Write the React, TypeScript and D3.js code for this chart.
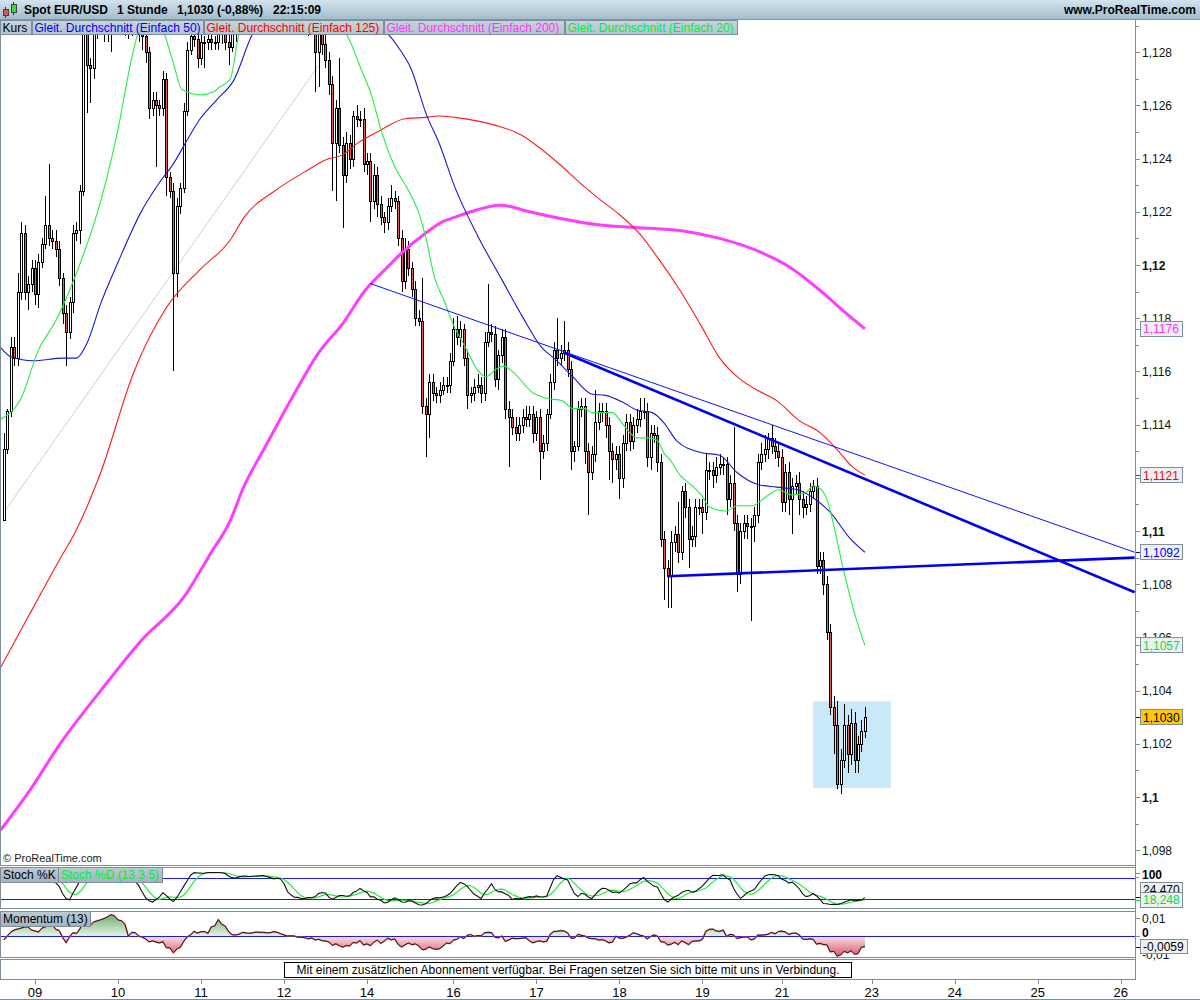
import React from 'react';
import * as d3 from 'd3';

// prices are stored as codes: 1203 -> 1.1203
const FIRST_INDEX = -9;
const FIRST_OPEN = 1104;

const closes = [
  1131, 1145, 1169, 1165, 1190, 1212, 1190, 1193, 1199, 1189,
  1201, 1208, 1215, 1210, 1209, 1206, 1195, 1182, 1175, 1186, 1212, 1213, 1228, 1291, 1275, 1274,
  1288, 1293, 1296, 1292, 1289, 1294, 1297, 1301, 1298, 1294, 1290, 1295, 1292, 1288, 1286,
  1280, 1259, 1262, 1260, 1259, 1270, 1233, 1228, 1197, 1222, 1229, 1258, 1281, 1286, 1285, 1278, 1284, 1284, 1285, 1284, 1284, 1288, 1287, 1284, 1282, 1288,
  1292, 1295, 1298, 1301, 1299, 1303, 1306, 1304, 1308, 1305, 1302, 1306, 1309, 1305, 1301, 1298, 1302, 1299, 1296, 1299, 1295, 1292, 1294,
  1280, 1288, 1283, 1277, 1268, 1246, 1259, 1245, 1234, 1246, 1240, 1256, 1255, 1255, 1238, 1239, 1224, 1234, 1223, 1218,
  1216, 1222, 1225, 1224, 1210, 1194, 1206, 1199, 1191, 1180, 1179, 1147, 1144, 1156, 1152, 1151, 1153, 1155, 1155, 1164,
  1176, 1173, 1176, 1165, 1151, 1152, 1154, 1155, 1152, 1171, 1175, 1174, 1157, 1166, 1173, 1146, 1143, 1139, 1137, 1140,
  1143, 1142, 1144, 1137, 1143, 1130, 1133, 1144, 1156, 1168, 1165, 1167, 1168, 1161, 1130, 1132, 1146, 1147, 1130, 1122,
  1129, 1141, 1145, 1145, 1140, 1130, 1127, 1129, 1120, 1133, 1141, 1134, 1140, 1142, 1145, 1145, 1128, 1137, 1136, 1126,
  1097, 1086, 1083, 1096, 1099, 1092, 1115, 1109, 1097, 1098, 1109, 1109, 1107, 1123, 1123, 1121, 1124, 1125, 1125, 1112,
  1118, 1103, 1084, 1100, 1103, 1102, 1102, 1106, 1126, 1129, 1131, 1135, 1132, 1130, 1128, 1111, 1122, 1112, 1117, 1118,
  1112, 1109, 1110, 1115, 1117, 1087, 1089, 1080, 1062, 1034, 1027, 1005, 1014, 1027, 1016, 1028, 1014, 1020, 1025, 1030,
];

// wick length in pips above / below the body
const wickUp = [
  6, 1, 4, 4, 7, 4, 3, 3, 3, 3,
  3, 2, 11, 23, 3, 4, 3, 2, 3, 2, 3, 3, 2, 5, 4, 3,
  3, 3, 3, 3, 3, 3, 3, 3, 3, 3, 3, 3, 3, 3, 3,
  3, 2, 3, 3, 2, 3, 2, 2, 3, 3, 2, 3, 3, 3, 3, 3, 3, 2, 3, 3, 2, 3, 3, 3, 3, 3,
  3, 4, 3, 4, 3, 3, 4, 3, 3, 4, 3, 3, 4, 3, 3, 4, 3, 3, 4, 3, 3, 4, 3,
  3, 3, 3, 4, 3, 3, 3, 19, 3, 4, 3, 2, 4, 3, 4, 3, 3, 4, 3, 3,
  2, 3, 5, 3, 2, 3, 4, 3, 2, 3, 3, 16, 3, 3, 3, 2, 3, 3, 3, 3,
  4, 5, 3, 2, 3, 2, 3, 4, 3, 4, 18, 3, 3, 2, 3, 3, 3, 3, 4, 3,
  3, 4, 3, 3, 2, 3, 3, 2, 3, 3, 12, 3, 11, 3, 3, 2, 3, 3, 3, 3,
  3, 12, 3, 3, 3, 3, 3, 3, 3, 3, 3, 3, 3, 4, 5, 5, 3, 3, 3, 3,
  3, 3, 3, 4, 3, 12, 2, 3, 3, 4, 3, 3, 3, 6, 3, 3, 4, 4, 3, 3,
  3, 21, 3, 3, 3, 3, 3, 3, 3, 4, 5, 2, 5, 3, 3, 3, 3, 4, 3, 3,
  4, 3, 3, 3, 2, 3, 3, 3, 3, 3, 4, 9, 4, 8, 4, 5, 4, 3, 4, 4,
];
const wickDn = [
  0, 2, 2, 3, 3, 3, 3, 7, 3, 4,
  5, 2, 2, 3, 3, 3, 3, 4, 13, 3, 4, 3, 5, 2, 18, 13,
  4, 3, 6, 8, 5, 9, 6, 7, 4, 8, 5, 4, 3, 4, 5,
  4, 4, 3, 23, 3, 3, 7, 3, 37, 9, 3, 2, 2, 2, 3, 4, 3, 10, 3, 3, 3, 3, 4, 3, 7, 2,
  4, 3, 3, 3, 4, 3, 3, 4, 3, 3, 4, 3, 4, 3, 4, 3, 3, 4, 3, 3, 5, 6, 4,
  15, 13, 4, 3, 4, 18, 22, 3, 20, 3, 4, 3, 3, 3, 3, 4, 8, 3, 5, 3,
  4, 3, 2, 3, 3, 4, 3, 3, 3, 3, 2, 3, 16, 9, 3, 3, 3, 2, 3, 3,
  2, 3, 4, 3, 5, 3, 3, 2, 4, 3, 2, 3, 3, 4, 3, 4, 19, 3, 3, 3,
  3, 3, 3, 4, 3, 11, 3, 3, 2, 3, 3, 3, 3, 3, 7, 4, 2, 3, 5, 16,
  3, 3, 3, 4, 5, 11, 9, 4, 8, 4, 3, 4, 3, 3, 3, 3, 4, 5, 3, 4,
  3, 12, 12, 12, 4, 4, 3, 4, 11, 3, 4, 3, 8, 3, 4, 5, 3, 3, 4, 6,
  3, 3, 7, 4, 3, 5, 36, 6, 3, 3, 3, 4, 3, 3, 4, 4, 4, 6, 13, 3,
  6, 4, 3, 3, 3, 3, 3, 4, 3, 3, 11, 2, 4, 3, 7, 4, 5, 5, 3, 3,
];

// momentum of the first 13 bars (pips)
const momentumLead = [-22, 0, 22, 33, 39, 44, 50, 50, 33, 28, 22, 44, 50];

// moving averages: [bar index, price code]
const sma20: [number, number][] = [
  [-10, 1142], [-4, 1150], [1, 1168], [6, 1179], [12, 1197], [19, 1224], [24, 1251], [28, 1278], [30, 1288],
  [33, 1293], [37, 1288], [40, 1276], [42.5, 1266], [48, 1264], [51.5, 1265], [53.5, 1267], [56.5, 1270],
  [59, 1287], [62, 1294], [74, 1296], [85, 1292], [89.5, 1288], [94.5, 1273], [97.5, 1263], [100, 1251],
  [104, 1237], [108, 1228], [111, 1219.5], [113, 1210.5], [115.5, 1195.5], [118.5, 1186], [120.5, 1179],
  [124.5, 1169], [128, 1160.5], [130.5, 1158], [133, 1160.5], [135.5, 1162], [138, 1160], [144, 1152],
  [147.5, 1150], [152.5, 1149], [155.5, 1146], [159, 1146], [161, 1144.5], [167, 1144.5], [169.5, 1141],
  [172, 1137], [174, 1135], [177.5, 1135], [180, 1134], [182, 1129], [183.5, 1127], [186.5, 1121],
  [190.5, 1116.5], [193, 1113], [195, 1109], [200, 1107.5], [203, 1109.5], [207.5, 1109.5], [211.5, 1113],
  [215, 1115.5], [219, 1113.5], [223, 1114.5], [225, 1117], [227, 1116], [229, 1112], [231, 1102],
  [233, 1090], [235, 1079], [237, 1069], [240, 1057],
];
const sma50: [number, number][] = [
  [-10, 1169], [-7, 1165.5], [-0.5, 1164], [8, 1165], [12, 1165], [15, 1170.5], [19, 1185.5], [24, 1201],
  [30.5, 1219.5], [36, 1231], [40, 1238], [44, 1247], [47.5, 1254.5], [52.5, 1262], [57.5, 1269.5], [63, 1287],
  [68, 1294], [82, 1298], [97, 1292], [102, 1287], [105.5, 1281], [108.5, 1274.5], [113.5, 1255.5],
  [116.5, 1247], [121.5, 1229], [128, 1211], [135, 1194.5], [141, 1180.5], [146.5, 1169], [150.5, 1164.5],
  [155.5, 1158], [161, 1151.5], [165, 1151], [170.5, 1148], [174, 1145.5], [178.5, 1144.5], [182, 1140.5],
  [185.5, 1134], [192.5, 1129.5], [198, 1128.5], [203, 1122], [209, 1117.5], [214.5, 1116.5], [220.5, 1115.5],
  [225, 1112.5], [230, 1107], [235.5, 1097.5], [240, 1092],
];
const sma125: [number, number][] = [
  [-10, 1048.5], [-4, 1063], [1.5, 1076], [7, 1089], [12, 1100.5], [19, 1122], [28.5, 1159.5], [38, 1184],
  [47.5, 1198], [56.5, 1209.5], [60.5, 1218], [69.5, 1228], [78, 1235], [84, 1239.5], [89, 1241.5],
  [93.5, 1246], [99, 1250], [107, 1255], [113, 1255.5], [116.5, 1256], [121.5, 1255.5], [128.5, 1254],
  [134.5, 1252], [140.5, 1249], [146, 1244], [152, 1237.5], [157.5, 1231], [163.5, 1224.5], [169, 1219],
  [175, 1211.5], [180.5, 1202], [186.5, 1190.5], [192.5, 1177.5], [198, 1165], [204, 1157], [209.5, 1152.5],
  [214.5, 1149], [221, 1141.5], [227, 1137], [232, 1130.5], [236.5, 1124], [240, 1121],
];
const sma200: [number, number][] = [
  [-10, 987.5], [-1.5, 1002.5], [7, 1019.5], [19, 1040], [30.5, 1058.5], [43.5, 1076], [50.5, 1091],
  [56.5, 1104], [60, 1115.5], [66.5, 1131.5], [74.5, 1150.5], [82, 1167], [89, 1178], [95.5, 1190.5],
  [101, 1198], [106, 1204.5], [113, 1212], [117.5, 1216], [121.5, 1218], [126, 1220], [134.5, 1222.5],
  [143, 1220], [152, 1217.5], [163.5, 1215], [175, 1214], [186.5, 1213], [198, 1210], [209.5, 1205],
  [218.5, 1199], [227, 1190.5], [234, 1182.5], [240, 1176],
];

// drawn trend lines: [bar index, price code] -> [bar index, price code]
const trendLines = [
  { from: [-9, 1107], to: [82, 1275], color: '#cfcfcf', width: 1 },
  { from: [97, 1193], to: [318, 1092], color: '#1010ff', width: 1 },
  { from: [153, 1167], to: [318, 1077], color: '#0000f0', width: 2.6 },
  { from: [183, 1083], to: [318, 1090], color: '#0000f0', width: 2.6 },
];
const highlightBox = { i0: 225, i1: 247.5, p0: 1003.4, p1: 1036 };

const dayLabels = ['09', '10', '11', '12', '14', '16', '17', '18', '19', '21', '23', '24', '25', '26'];
const dayIndex = [0, 24, 48, 72, 96, 121, 145, 169, 193, 216, 242, 266, 290, 314];

// 1,112 sits fully under the 1,1121 tag, so it is not labelled
const priceTicks = [1.098, 1.1, 1.102, 1.104, 1.106, 1.108, 1.11, 1.112, 1.114, 1.116, 1.118, 1.12, 1.122, 1.124, 1.126, 1.128];
const priceLabels = [1.098, 1.1, 1.102, 1.104, 1.106, 1.108, 1.11, 1.114, 1.116, 1.118, 1.12, 1.122, 1.124, 1.126, 1.128];
const minorTicks = [1.097, 1.099, 1.101, 1.103, 1.105, 1.107, 1.109, 1.111, 1.113, 1.115, 1.117, 1.119, 1.121, 1.123, 1.125, 1.127, 1.129];

const lastTags = [
  { label: '1,1176', value: 1.1176, color: '#ff33ff', fill: '#eef0f2' },
  { label: '1,1121', value: 1.1121, color: '#ff0000', fill: '#eef0f2' },
  { label: '1,1092', value: 1.1092, color: '#0000ff', fill: '#eef0f2' },
  { label: '1,1057', value: 1.1057, color: '#00e040', fill: '#eef0f2' },
  { label: '1,1030', value: 1.1030, color: '#000000', fill: '#ffc800' },
];

const legendItems = [
  { label: 'Kurs', color: '#000000', x0: 0, x1: 31 },
  { label: 'Gleit. Durchschnitt (Einfach 50)', color: '#0000ff', x0: 32, x1: 203 },
  { label: 'Gleit. Durchschnitt (Einfach 125)', color: '#ff0000', x0: 204, x1: 383 },
  { label: 'Gleit. Durchschnitt (Einfach 200)', color: '#ff33ff', x0: 384, x1: 564 },
  { label: 'Gleit. Durchschnitt (Einfach 20)', color: '#00ee33', x0: 565, x1: 737 },
];

const FONT = '"Liberation Sans", Arial, Helvetica, sans-serif';
const PLOT_R = 1135;
const MAIN_TOP = 20, MAIN_BOT = 865;
const STO_TOP = 868, STO_BOT = 908;
const MOM_TOP = 912, MOM_BOT = 957;
const NOTE_TOP = 960, NOTE_BOT = 979;
const FRAME = '#7d8e99';

const toPrice = (code: number) => 1 + code / 10000;

const candles = closes.map((c, k) => {
  const o = k === 0 ? FIRST_OPEN : closes[k - 1];
  return {
    i: FIRST_INDEX + k,
    o: toPrice(o),
    c: toPrice(c),
    h: toPrice(Math.max(o, c) + wickUp[k]),
    l: toPrice(Math.min(o, c) - wickDn[k]),
  };
});

// Stochastic (13, 3, 5)
const rawK = candles.map((d, k) => {
  const w = candles.slice(Math.max(0, k - 12), k + 1);
  const hh = d3.max(w, e => e.h) as number;
  const ll = d3.min(w, e => e.l) as number;
  return ((d.c - ll) / (hh - ll)) * 100;
});
const pctK = rawK.map((_, k) => d3.mean(rawK.slice(Math.max(0, k - 2), k + 1)) as number);
const pctD = pctK.map((_, k) => d3.mean(pctK.slice(Math.max(0, k - 4), k + 1)) as number);

// Momentum (13)
const momentum = closes.map((c, k) => (k < 13 ? momentumLead[k] : c - closes[k - 13]) / 10000);

const x = d3.scaleLinear().domain([0, 314]).range([35, 35 + 314 * 3.458]);
const y = d3.scaleLinear().domain([1.1, 1.128]).range([797, 52.2]);
const yS = d3.scaleLinear().domain([0, 100]).range([906.3, 871.3]);
const yM = d3.scaleLinear().domain([0, 0.01]).range([936, 918]);

const fmt = (v: number) => String(+v.toFixed(4)).replace('.', ',');

export default function App() {
  const maLine = d3.line<[number, number]>()
    .x(d => x(d[0]))
    .y(d => y(toPrice(d[1])))
    .curve(d3.curveMonotoneX);

  const indLine = d3.line<number>()
    .x((_, k) => x(FIRST_INDEX + k));

  const momArea = d3.area<number>()
    .x((_, k) => x(FIRST_INDEX + k))
    .y0(yM(0))
    .y1(d => yM(d));

  const pnl = (top: number, bot: number) => (
    <rect x={0.5} y={top + 0.5} width={PLOT_R} height={bot - top} fill="none" stroke={FRAME} />
  );

  return (
    <div>
      <style>{`body{margin:0}`}</style>
      <svg width={1200} height={1000} style={{ display: 'block', fontFamily: FONT }}>
        <defs>
          <linearGradient id="titleGrad" x1="0" y1="0" x2="0" y2="1">
            <stop offset="0" stopColor="#d2e4ee" />
            <stop offset="1" stopColor="#a3bccb" />
          </linearGradient>
          <linearGradient id="boxGrad" x1="0" y1="0" x2="0" y2="1">
            <stop offset="0" stopColor="#c9d4db" />
            <stop offset="1" stopColor="#b3c2cc" />
          </linearGradient>
          <linearGradient id="boxGrad2" x1="0" y1="0" x2="0" y2="1">
            <stop offset="0" stopColor="#bccbd5" />
            <stop offset="1" stopColor="#9fb3c0" />
          </linearGradient>
          <linearGradient id="momUp" gradientUnits="userSpaceOnUse" x1="0" y1={MOM_TOP} x2="0" y2={yM(0)}>
            <stop offset="0" stopColor="#5fa95f" />
            <stop offset="1" stopColor="#e4f2e4" />
          </linearGradient>
          <linearGradient id="momDn" gradientUnits="userSpaceOnUse" x1="0" y1={yM(0)} x2="0" y2={MOM_BOT}>
            <stop offset="0" stopColor="#f9e2e6" />
            <stop offset="1" stopColor="#d9506c" />
          </linearGradient>
          <clipPath id="clipMain"><rect x={0} y={MAIN_TOP} width={PLOT_R} height={MAIN_BOT - MAIN_TOP} /></clipPath>
          <clipPath id="clipSto"><rect x={0} y={STO_TOP} width={PLOT_R} height={STO_BOT - STO_TOP} /></clipPath>
          <clipPath id="clipMomUp"><rect x={0} y={MOM_TOP} width={PLOT_R} height={yM(0) - MOM_TOP} /></clipPath>
          <clipPath id="clipMomDn"><rect x={0} y={yM(0)} width={PLOT_R} height={MOM_BOT - yM(0)} /></clipPath>
          <clipPath id="clipMom"><rect x={0} y={MOM_TOP} width={PLOT_R} height={MOM_BOT - MOM_TOP} /></clipPath>
        </defs>

        <rect x={0} y={0} width={1200} height={1000} fill="#ffffff" />

        {/* main price panel */}
        <g clipPath="url(#clipMain)">
          <rect
            x={x(highlightBox.i0)} y={y(toPrice(highlightBox.p1))}
            width={x(highlightBox.i1) - x(highlightBox.i0)}
            height={y(toPrice(highlightBox.p0)) - y(toPrice(highlightBox.p1))}
            fill="#c9e9f9"
          />
          <line
            x1={x(trendLines[0].from[0])} y1={y(toPrice(trendLines[0].from[1]))}
            x2={x(trendLines[0].to[0])} y2={y(toPrice(trendLines[0].to[1]))}
            stroke={trendLines[0].color} strokeWidth={trendLines[0].width}
          />
          <g shapeRendering="crispEdges">
            {candles.map(d => {
              const cx = Math.round(x(d.i));
              const top = Math.round(y(Math.max(d.o, d.c)));
              const bot = Math.round(y(Math.min(d.o, d.c)));
              return (
                <g key={d.i}>
                  <line x1={cx + 0.5} x2={cx + 0.5} y1={Math.round(y(d.h))} y2={Math.round(y(d.l))} stroke="#000" />
                  <rect
                    x={cx - 0.5} y={top + 0.5} width={2} height={Math.max(1, bot - top)}
                    fill={d.c >= d.o ? '#ffffff' : '#dc5f5c'} stroke="#000"
                  />
                </g>
              );
            })}
          </g>
          <path d={maLine(sma200) || ''} fill="none" stroke="#ff3dff" strokeWidth={3} />
          <path d={maLine(sma125) || ''} fill="none" stroke="#ff1a1a" strokeWidth={1.1} />
          <path d={maLine(sma50) || ''} fill="none" stroke="#1a1acc" strokeWidth={1.1} />
          <path d={maLine(sma20) || ''} fill="none" stroke="#22ee44" strokeWidth={1.1} />
          {trendLines.slice(1).map((t, k) => (
            <line
              key={k}
              x1={x(t.from[0])} y1={y(toPrice(t.from[1]))}
              x2={x(t.to[0])} y2={y(toPrice(t.to[1]))}
              stroke={t.color} strokeWidth={t.width}
            />
          ))}
        </g>
        {pnl(MAIN_TOP - 1, MAIN_BOT)}
        <text x={3} y={862} fontSize={11} fill="#222">© ProRealTime.com</text>

        {/* price axis */}
        <g shapeRendering="crispEdges" stroke={FRAME}>
          {priceTicks.map(v => (
            <line key={v} x1={PLOT_R} x2={PLOT_R + 5} y1={Math.round(y(v)) + 0.5} y2={Math.round(y(v)) + 0.5} />
          ))}
          {minorTicks.filter(v => y(v) > MAIN_TOP + 2).map(v => (
            <line key={v} x1={PLOT_R} x2={PLOT_R + 4} y1={Math.round(y(v)) + 0.5} y2={Math.round(y(v)) + 0.5} />
          ))}
        </g>
        {priceLabels.map(v => (
          <text
            key={v} x={PLOT_R + 7} y={y(v) + 4.5} fontSize={12} fill="#111"
            fontWeight={Math.abs(v * 100 - Math.round(v * 100)) < 1e-6 ? 'bold' : 'normal'}
          >
            {fmt(v)}
          </text>
        ))}
        {lastTags.map(t => (
          <g key={t.label}>
            <line x1={PLOT_R} x2={PLOT_R + 5} y1={Math.round(y(t.value)) + 0.5} y2={Math.round(y(t.value)) + 0.5} stroke={t.color} />
            <rect x={PLOT_R + 5.5} y={Math.round(y(t.value)) - 7.5} width={42} height={15} fill={t.fill} stroke="#7f909b" />
            <text x={PLOT_R + 8} y={y(t.value) + 4.5} fontSize={12} fill={t.color}>{t.label}</text>
          </g>
        ))}

        {/* stochastic panel */}
        <g clipPath="url(#clipSto)">
          <line x1={0} x2={PLOT_R} y1={Math.round(yS(80)) + 0.5} y2={Math.round(yS(80)) + 0.5} stroke="#1a1aee" />
          <line x1={0} x2={PLOT_R} y1={Math.round(yS(20)) + 0.5} y2={Math.round(yS(20)) + 0.5} stroke="#1a1aee" />
          <path d={indLine.y(d => yS(d))(pctD) || ''} fill="none" stroke="#22ee33" strokeWidth={1.2} />
          <path d={indLine.y(d => yS(d))(pctK) || ''} fill="none" stroke="#111" strokeWidth={1.1} />
        </g>
        {pnl(STO_TOP - 1, STO_BOT)}
        <rect x={0.5} y={STO_TOP - 0.5} width={58} height={15} fill="url(#boxGrad2)" stroke={FRAME} />
        <text x={3} y={STO_TOP + 11} fontSize={12} fill="#000">Stoch %K</text>
        <rect x={58.5} y={STO_TOP - 0.5} width={104} height={15} fill="url(#boxGrad2)" stroke={FRAME} />
        <text x={61} y={STO_TOP + 11} fontSize={12} fill="#00ee33">Stoch %D (13 3 5)</text>
        <line x1={PLOT_R} x2={PLOT_R + 5} y1={873.5} y2={873.5} stroke={FRAME} />
        <text x={PLOT_R + 7} y={879} fontSize={12} fontWeight="bold" fill="#000">100</text>
        <line x1={PLOT_R} x2={PLOT_R + 5} y1={897.5} y2={897.5} stroke="#000" />
        <rect x={PLOT_R + 5.5} y={882.5} width={42} height={15} fill="#eef0f2" stroke="#7f909b" />
        <text x={PLOT_R + 8} y={894} fontSize={12} fill="#000">24,470</text>
        <line x1={PLOT_R} x2={PLOT_R + 5} y1={900.5} y2={900.5} stroke="#00ee33" />
        <rect x={PLOT_R + 5.5} y={892.5} width={42} height={15} fill="#eef0f2" stroke="#7f909b" />
        <text x={PLOT_R + 8} y={904} fontSize={12} fill="#00e040">18,248</text>

        {/* momentum panel */}
        <path d={momArea(momentum) || ''} fill="url(#momUp)" clipPath="url(#clipMomUp)" />
        <path d={momArea(momentum) || ''} fill="url(#momDn)" clipPath="url(#clipMomDn)" />
        <g clipPath="url(#clipMom)">
          <line x1={0} x2={PLOT_R} y1={yM(0) + 0.5} y2={yM(0) + 0.5} stroke="#1a1aee" />
          <path d={indLine.y(d => yM(d))(momentum) || ''} fill="none" stroke="#e46f6f" strokeWidth={1.6} />
          <path d={indLine.y(d => yM(d))(momentum) || ''} fill="none" stroke="#111" strokeWidth={0.9} />
        </g>
        {pnl(MOM_TOP - 1, MOM_BOT)}
        <rect x={0.5} y={MOM_TOP - 0.5} width={90} height={15} fill="url(#boxGrad2)" stroke={FRAME} />
        <text x={3} y={MOM_TOP + 11} fontSize={12} fill="#000">Momentum (13)</text>
        <line x1={PLOT_R} x2={PLOT_R + 5} y1={yM(0.01) + 0.5} y2={yM(0.01) + 0.5} stroke={FRAME} />
        <text x={PLOT_R + 7} y={yM(0.01) + 4.5} fontSize={12} fill="#111">0,01</text>
        <line x1={PLOT_R} x2={PLOT_R + 5} y1={yM(0) + 0.5} y2={yM(0) + 0.5} stroke={FRAME} />
        <text x={PLOT_R + 7} y={yM(0) + 1} fontSize={12} fontWeight="bold" fill="#000">0</text>
        <text x={PLOT_R + 7} y={yM(-0.01) + 4.5} fontSize={12} fill="#111">-0,01</text>
        <line x1={PLOT_R} x2={PLOT_R + 5} y1={Math.round(yM(-0.0059)) + 0.5} y2={Math.round(yM(-0.0059)) + 0.5} stroke="#000" />
        <rect x={PLOT_R + 5.5} y={939.5} width={47} height={14} fill="#eef0f2" stroke="#7f909b" />
        <text x={PLOT_R + 8} y={950.5} fontSize={12} fill="#000">-0,0059</text>

        {/* notice */}
        {pnl(NOTE_TOP - 1, NOTE_BOT)}
        <rect x={284.5} y={962.5} width={567} height={15} fill="#fff" stroke="#000" />
        <text x={568} y={974} fontSize={12} textAnchor="middle" fill="#000">
          Mit einem zusätzlichen Abonnement verfügbar. Bei Fragen setzen Sie sich bitte mit uns in Verbindung.
        </text>

        {/* right axis line */}
        <line x1={PLOT_R + 0.5} x2={PLOT_R + 0.5} y1={MAIN_TOP - 1} y2={NOTE_BOT + 1} stroke={FRAME} />

        {/* time axis */}
        <g shapeRendering="crispEdges">
          {dayIndex.map(i => (
            <line key={i} x1={Math.round(x(i)) + 0.5} x2={Math.round(x(i)) + 0.5} y1={NOTE_BOT} y2={NOTE_BOT + 5} stroke={FRAME} />
          ))}
        </g>
        {dayLabels.map((lab, k) => (
          <text key={lab} x={x(dayIndex[k])} y={997} fontSize={13} textAnchor="middle" fill="#000">{lab}</text>
        ))}
        <line x1={0} x2={1200} y1={999.5} y2={999.5} stroke={FRAME} />

        {/* title bar */}
        <rect x={0} y={0} width={1200} height={19} fill="url(#titleGrad)" />
        <line x1={0} x2={1200} y1={19.5} y2={19.5} stroke="#7f95a3" />
        <line x1={5.5} x2={5.5} y1={7} y2={18} stroke="#333" />
        <rect x={3.5} y={9.5} width={5} height={6} fill="#e05050" stroke="#444" />
        <line x1={13.5} x2={13.5} y1={2} y2={15} stroke="#333" />
        <rect x={11.5} y={4.5} width={5} height={8} fill="#33dd33" stroke="#444" />
        <text x={24} y={14} fontSize={12} fontWeight="bold" fill="#000">Spot EUR/USD</text>
        <text x={117} y={14} fontSize={12} fontWeight="bold" fill="#000">1 Stunde</text>
        <text x={177} y={14} fontSize={12} fontWeight="bold" fill="#000">1,1030 (-0,88%)</text>
        <text x={273} y={14} fontSize={12} fontWeight="bold" fill="#000">22:15:09</text>
        <text x={1196} y={14} fontSize={12} fontWeight="bold" fill="#000" textAnchor="end">www.ProRealTime.com</text>

        {/* legend */}
        {legendItems.map(it => (
          <g key={it.label}>
            <rect x={it.x0 + 0.5} y={20.5} width={it.x1 - it.x0} height={14} fill="url(#boxGrad)" stroke={FRAME} />
            <text x={it.x0 + 2.5} y={31.5} fontSize={12} fill={it.color}>{it.label}</text>
          </g>
        ))}
      </svg>
    </div>
  );
}
